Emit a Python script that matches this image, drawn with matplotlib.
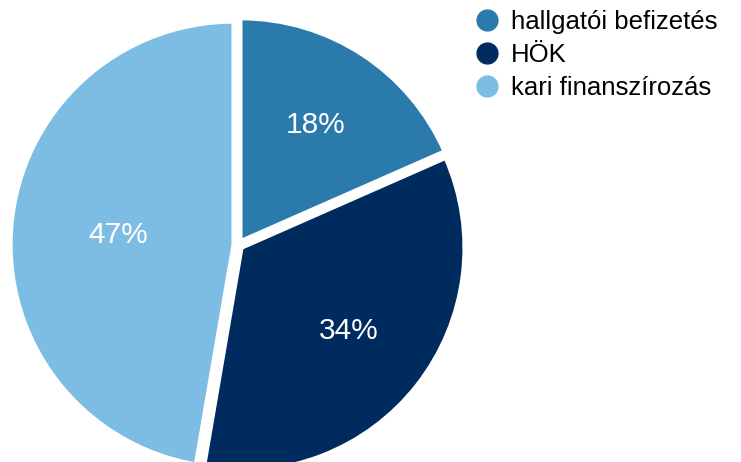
import matplotlib as mpl
mpl.use('Agg')
import matplotlib.pyplot as plt
from matplotlib.lines import Line2D

plt.rcParams['font.family'] = ['Liberation Sans', 'DejaVu Sans']

labels = ['hallgatói befizetés', 'HÖK', 'kari finanszírozás']
values = [18.4, 34.3, 47.3]
colors = ['#2a7bac', '#002b5e', '#7dbce3']
label_dist = [0.64, 0.63, 0.54]

W, H = 741, 462
fig = plt.figure(figsize=(W / 100, H / 100), dpi=100)
R = 223
cx, cy = 238, 245
ax = fig.add_axes([(cx - R) / W, (H - cy - R) / H, 2 * R / W, 2 * R / H])

wedges, texts, autotexts = ax.pie(values, colors=colors, startangle=90, counterclock=False,
                                  explode=[0.02] * 3, radius=1,
                                  autopct='%1.0f%%', pctdistance=0.6,
                                  wedgeprops=dict(edgecolor='white', linewidth=3),
                                  textprops=dict(color='white', fontsize=21.5))
for w, t, d in zip(wedges, autotexts, label_dist):
    x, y = t.get_position()
    r = (x ** 2 + y ** 2) ** 0.5
    t.set_position((x / r * d, y / r * d))
ax.set_xlim(-1, 1)
ax.set_ylim(-1, 1)
ax.set_aspect('equal')
ax.axis('off')

handles = [Line2D([], [], marker='o', linestyle='', markersize=15, color=c) for c in colors]
fig.legend(handles, labels, loc='upper left', bbox_to_anchor=(461 / W, 1.0), frameon=False,
           fontsize=18.5, handletextpad=0.35, labelspacing=0.35, borderaxespad=0, handlelength=1.2)

fig.savefig('out.png', dpi=100)
